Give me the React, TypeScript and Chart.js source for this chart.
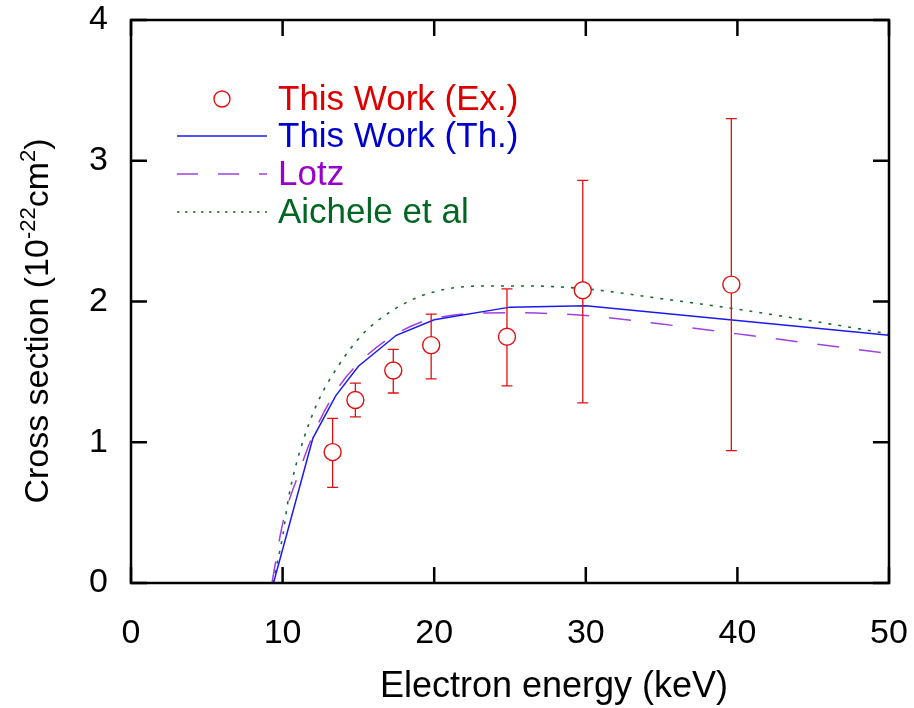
import React, { useEffect, useRef } from "react";
import { Chart, registerables } from "chart.js";

Chart.register(...registerables);

// ---- Data ----
const expEnergy = [13.3, 14.8, 17.3, 19.8, 24.8, 29.8, 39.6];
const expCross = [0.93, 1.30, 1.51, 1.69, 1.75, 2.08, 2.12];
const expUpper = [1.17, 1.42, 1.66, 1.91, 2.09, 2.86, 3.30];
const expLower = [0.68, 1.18, 1.35, 1.45, 1.40, 1.28, 0.94];

const thEnergy = [9.4, 12.0, 13.5, 15.0, 17.5, 20.0, 25.0, 30.0, 50.0];
const thCross = [0, 1.03, 1.33, 1.54, 1.76, 1.87, 1.96, 1.97, 1.76];

const lotzEnergy = [9.3, 10, 11, 12, 13.5, 15, 17.5, 20, 25, 30, 35, 40, 45, 50];
const lotzCross = [0, 0.42, 0.76, 1.05, 1.36, 1.56, 1.77, 1.88, 1.92, 1.9, 1.84, 1.77, 1.7, 1.63];

const aicEnergy = [9.35, 10.0, 10.4, 11.15, 12.3, 13.6, 15.3, 17.3, 19.7, 23.2, 26.3, 30, 35, 39.7, 45, 50];
const aicCross = [0, 0.33, 0.61, 0.94, 1.28, 1.53, 1.77, 1.94, 2.06, 2.11, 2.11, 2.09, 2.02, 1.95, 1.86, 1.77];

const xTicks = [0, 10, 20, 30, 40, 50];
const yTicks = [0, 1, 2, 3, 4];

const legendLabels = ["This Work (Ex.)", "This Work (Th.)", "Lotz", "Aichele et al"];

// ---- Styles ----
const RED = "#e01010";
const BLUE = "#1a1aee";
const PURPLE = "#a040e0";
const GREEN = "#1b6b35";
const TEXT_COLORS = ["#dd0000", "#0000cc", "#9900cc", "#006622"];
const FONT = "'Liberation Sans', Arial, sans-serif";

const toXY = (xs: number[], ys: number[]) => xs.map((x, i) => ({ x, y: ys[i] }));

const overlayPlugin = {
  id: "overlay",
  beforeDatasetDraw(chart: any, args: any) {
    if (args.index !== 0) return;
    const { ctx, scales } = chart;
    const xs = scales.x;
    const ys = scales.y;
    ctx.save();
    ctx.strokeStyle = RED;
    ctx.lineWidth = 1.3;
    for (let i = 0; i < expEnergy.length; i++) {
      const px = xs.getPixelForValue(expEnergy[i]);
      const top = ys.getPixelForValue(expUpper[i]);
      const bot = ys.getPixelForValue(expLower[i]);
      ctx.beginPath();
      ctx.moveTo(px, top);
      ctx.lineTo(px, bot);
      ctx.moveTo(px - 5.5, top);
      ctx.lineTo(px + 5.5, top);
      ctx.moveTo(px - 5.5, bot);
      ctx.lineTo(px + 5.5, bot);
      ctx.stroke();
    }
    ctx.restore();
  },
  afterDraw(chart: any) {
    const { ctx, chartArea, scales } = chart;
    const { left, right, top, bottom } = chartArea;
    const xs = scales.x;
    const ys = scales.y;
    ctx.save();
    // frame
    ctx.strokeStyle = "#000";
    ctx.lineWidth = 2.5;
    ctx.strokeRect(left, top, right - left, bottom - top);
    // inward ticks
    const tl = 16;
    ctx.beginPath();
    xTicks.forEach((v) => {
      const p = xs.getPixelForValue(v);
      ctx.moveTo(p, bottom);
      ctx.lineTo(p, bottom - tl);
      ctx.moveTo(p, top);
      ctx.lineTo(p, top + tl);
    });
    yTicks.forEach((v) => {
      const p = ys.getPixelForValue(v);
      ctx.moveTo(left, p);
      ctx.lineTo(left + tl, p);
      ctx.moveTo(right, p);
      ctx.lineTo(right - tl, p);
    });
    ctx.stroke();

    // x title
    ctx.fillStyle = "#000";
    ctx.font = `36px ${FONT}`;
    ctx.textAlign = "center";
    ctx.textBaseline = "alphabetic";
    ctx.fillText("Electron energy (keV)", 554, 697);

    // y title with superscripts
    ctx.save();
    ctx.translate(48, 321);
    ctx.rotate(-Math.PI / 2);
    ctx.textAlign = "left";
    const parts: [string, number, number][] = [
      ["Cross section (10", 34, 0],
      ["-22", 22, -13],
      ["cm", 34, 0],
      ["2", 22, -13],
      [")", 34, 0],
    ];
    let total = 0;
    parts.forEach(([t, s]) => {
      ctx.font = `${s}px ${FONT}`;
      total += ctx.measureText(t).width;
    });
    let cx = -total / 2;
    parts.forEach(([t, s, dy]) => {
      ctx.font = `${s}px ${FONT}`;
      ctx.fillText(t, cx, dy);
      cx += ctx.measureText(t).width;
    });
    ctx.restore();

    // legend
    const lx0 = 177;
    const lx1 = 267;
    const tx = 278;
    const rowsY = [99, 136, 174, 212];
    ctx.strokeStyle = RED;
    ctx.lineWidth = 1.4;
    ctx.fillStyle = "#fff";
    ctx.beginPath();
    ctx.arc(222, rowsY[0], 8, 0, Math.PI * 2);
    ctx.fill();
    ctx.stroke();

    ctx.lineWidth = 1.5;
    ctx.strokeStyle = BLUE;
    ctx.setLineDash([]);
    ctx.beginPath();
    ctx.moveTo(lx0, rowsY[1]);
    ctx.lineTo(lx1, rowsY[1]);
    ctx.stroke();

    ctx.strokeStyle = PURPLE;
    ctx.setLineDash([21, 20]);
    ctx.beginPath();
    ctx.moveTo(lx0, rowsY[2]);
    ctx.lineTo(lx1, rowsY[2]);
    ctx.stroke();

    ctx.strokeStyle = GREEN;
    ctx.setLineDash([2.5, 5.5]);
    ctx.beginPath();
    ctx.moveTo(lx0, rowsY[3]);
    ctx.lineTo(lx1, rowsY[3]);
    ctx.stroke();
    ctx.setLineDash([]);

    ctx.font = `35px ${FONT}`;
    ctx.textAlign = "left";
    ctx.textBaseline = "alphabetic";
    legendLabels.forEach((lab, i) => {
      ctx.fillStyle = TEXT_COLORS[i];
      ctx.fillText(lab, tx, rowsY[i] + 11);
    });
    ctx.restore();
  },
};

export default function App() {
  const ref = useRef<HTMLCanvasElement | null>(null);
  useEffect(() => {
    if (!ref.current) return;
    const chart = new Chart(ref.current, {
      type: "scatter",
      data: {
        datasets: [
          {
            label: legendLabels[0],
            data: toXY(expEnergy, expCross),
            pointStyle: "circle",
            pointRadius: 8.5,
            pointHoverRadius: 8.5,
            borderColor: RED,
            backgroundColor: "#fff",
            borderWidth: 1.4,
            showLine: false,
          },
          {
            label: legendLabels[1],
            data: toXY(thEnergy, thCross),
            showLine: true,
            pointRadius: 0,
            borderColor: BLUE,
            borderWidth: 1.5,
            tension: 0,
          },
          {
            label: legendLabels[2],
            data: toXY(lotzEnergy, lotzCross),
            showLine: true,
            pointRadius: 0,
            borderColor: PURPLE,
            borderWidth: 1.5,
            borderDash: [22, 20],
            cubicInterpolationMode: "monotone",
          },
          {
            label: legendLabels[3],
            data: toXY(aicEnergy, aicCross),
            showLine: true,
            pointRadius: 0,
            borderColor: GREEN,
            borderWidth: 1.6,
            borderDash: [3, 7],
            cubicInterpolationMode: "monotone",
          },
        ],
      },
      options: {
        responsive: false,
        animation: false,
        events: [],
        layout: { padding: { top: 20, right: 25, left: 0, bottom: 0 } },
        plugins: {
          legend: { display: false },
          tooltip: { enabled: false },
          title: { display: false },
        },
        scales: {
          x: {
            type: "linear",
            min: 0,
            max: 50,
            afterBuildTicks: (s: any) => {
              s.ticks = xTicks.map((v) => ({ value: v }));
            },
            ticks: {
              color: "#000",
              font: { size: 34, family: FONT },
              padding: 30,
              maxRotation: 0,
            },
            grid: { display: false, drawTicks: false },
            border: { display: false },
            afterFit: (s: any) => {
              s.height = 125;
              s.paddingLeft = 0;
              s.paddingRight = 0;
              s.paddingTop = 0;
              s.paddingBottom = 0;
            },
          },
          y: {
            type: "linear",
            min: 0,
            max: 4,
            afterBuildTicks: (s: any) => {
              s.ticks = yTicks.map((v) => ({ value: v }));
            },
            ticks: {
              color: "#000",
              font: { size: 34, family: FONT },
              padding: 23,
            },
            grid: { display: false, drawTicks: false },
            border: { display: false },
            afterFit: (s: any) => {
              s.width = 131;
              s.paddingLeft = 0;
              s.paddingRight = 0;
              s.paddingTop = 0;
              s.paddingBottom = 0;
            },
          },
        },
      },
      plugins: [overlayPlugin],
    } as any);
    return () => chart.destroy();
  }, []);
  return (
    <canvas
      ref={ref}
      width={914}
      height={708}
      style={{ position: "absolute", left: 0, top: 0, width: 914, height: 708 }}
    />
  );
}
